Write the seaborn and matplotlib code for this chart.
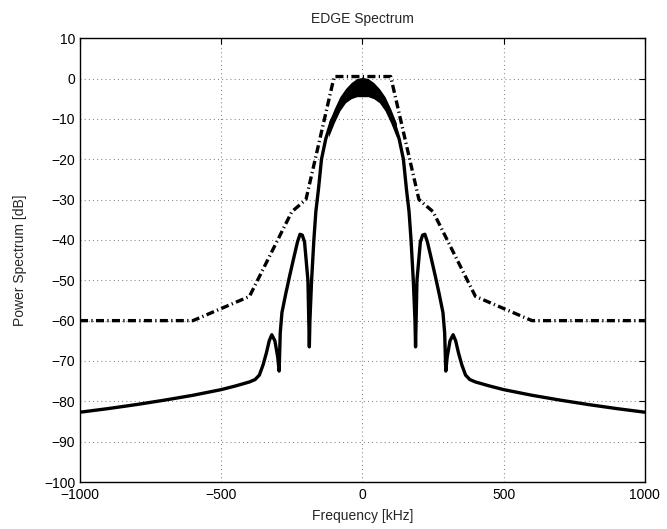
import numpy as np
import pandas as pd
import matplotlib
matplotlib.use("Agg")
import matplotlib.pyplot as plt
import seaborn as sns

# ---- data ----
freq_khz = [-1000, -900, -800, -700, -600, -500, -450, -400, -380, -365, -352, -340,
            -330, -321, -310, -300, -295, -291, -285, -272, -258, -245, -230, -221,
            -213, -205, -193, -188, -186, -180, -172, -165, -156, -145, -130, -110,
            -100, -80, -60, -40, -20, 0,
            20, 40, 60, 80, 100, 110, 130, 145, 156, 165, 172, 180, 186, 188,
            193, 205, 213, 221, 230, 245, 258, 272, 285, 291, 295, 300, 310, 321,
            330, 340, 352, 365, 380, 400, 450, 500, 600, 700, 800, 900, 1000]
spectrum_db = [-82.7, -81.8, -80.8, -79.7, -78.5, -77.1, -76.2, -75.2, -74.6, -73.5, -71.0, -68.0,
               -65.0, -63.5, -65.0, -69.0, -72.5, -63.0, -58.0, -53.5, -49.0, -45.0, -40.5, -38.6,
               -38.8, -40.5, -50.0, -66.5, -60.0, -50.0, -40.0, -33.0, -27.6, -20.0, -15.0, -10.5,
               -9.2, -6.2, -4.2, -3.0, -2.2, -2.1,
               -2.2, -3.0, -4.2, -6.2, -9.2, -10.5, -15.0, -20.0, -27.6, -33.0, -40.0, -50.0, -60.0, -66.5,
               -50.0, -40.5, -38.8, -38.6, -40.5, -45.0, -49.0, -53.5, -58.0, -63.0, -72.5, -69.0, -65.0, -63.5,
               -65.0, -68.0, -71.0, -73.5, -74.6, -75.2, -76.2, -77.1, -78.5, -79.7, -80.8, -81.8, -82.7]

# noisy band around the top of the main lobe
band_khz = [-120, -100, -80, -60, -40, -20, 0, 20, 40, 60, 80, 100, 120]
band_hi = [-11.0, -7.5, -4.5, -2.5, -1.0, 0.0, 0.3, 0.0, -1.0, -2.5, -4.5, -7.5, -11.0]
band_lo = [-14.5, -11.0, -8.0, -6.0, -5.0, -4.5, -4.5, -4.5, -5.0, -6.0, -8.0, -11.0, -14.5]

# spectrum mask
mask_khz = [-1000, -600, -400, -250, -200, -100, 100, 200, 250, 400, 600, 1000]
mask_db = [-60, -60, -54, -33, -30, 0.5, 0.5, -30, -33, -54, -60, -60]

x_ticks = [-1000, -500, 0, 500, 1000]
y_ticks = [-100, -90, -80, -70, -60, -50, -40, -30, -20, -10, 0, 10]

# ---- styling ----
sns.set_style("white")
plt.rcParams['font.family'] = ['Liberation Sans', 'DejaVu Sans']
plt.rcParams['axes.unicode_minus'] = True
plt.rcParams['lines.scale_dashes'] = False

fig = plt.figure(figsize=(6.67, 5.29), dpi=100)
ax = fig.add_axes([0.1199, 0.0888, 0.847, 0.839])

spec_df = pd.DataFrame({"f": freq_khz, "p": spectrum_db})
mask_df = pd.DataFrame({"f": mask_khz, "p": mask_db})

ax.fill_between(band_khz, band_lo, band_hi, color="black", lw=0, zorder=3)
sns.lineplot(data=spec_df, x="f", y="p", ax=ax, color="black", linewidth=2.4,
             estimator=None, errorbar=None, sort=False, zorder=3)
sns.lineplot(data=mask_df, x="f", y="p", ax=ax, color="black", linewidth=2.4,
             linestyle=(0, (5.8, 2.4, 0.9, 2.4)), estimator=None, errorbar=None,
             sort=False, zorder=4)

ax.set_xlim(-1000, 1000)
ax.set_ylim(-100, 10)
ax.set_xticks(x_ticks)
ax.set_yticks(y_ticks)
ax.grid(True, color="#808080", linestyle=(0, (0.7, 2.3)), linewidth=0.8)
ax.set_axisbelow(True)

for s in ax.spines.values():
    s.set_color("black")
    s.set_linewidth(1.0)

ax.tick_params(direction="in", length=4, width=0.8, top=True, right=True,
               labelsize=10, colors="black", pad=3.5)
ax.tick_params(axis="x", pad=4)

ax.set_title("EDGE Spectrum", fontsize=10, pad=11)
ax.set_xlabel("Frequency [kHz]", fontsize=10, labelpad=5)
ax.set_ylabel("Power Spectrum [dB]", fontsize=10, labelpad=12)

fig.savefig("out.png", dpi=100)
